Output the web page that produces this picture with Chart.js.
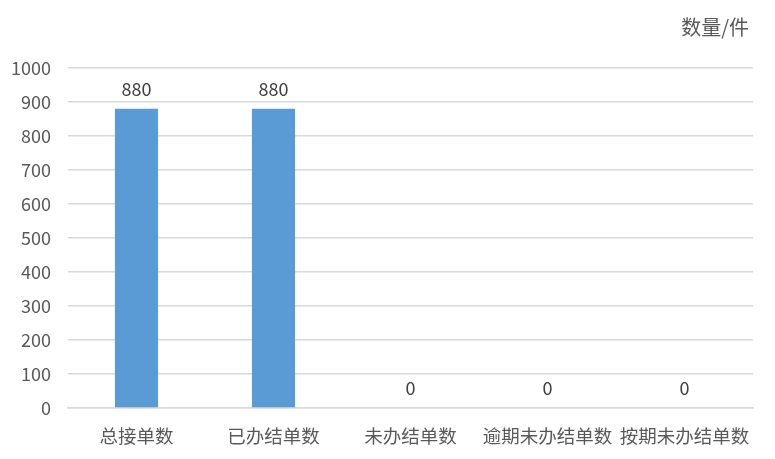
<!DOCTYPE html>
<html>
<head>
<meta charset="utf-8">
<script src="https://cdn.jsdelivr.net/npm/chart.js@4"></script>
<style>
  html, body { margin: 0; padding: 0; background: #fff; }
  #wrap { width: 775px; height: 459px; position: relative; }
</style>
</head>
<body>
<div id="wrap"><canvas id="myChart"></canvas></div>
<script>
const categorias = ['总接单数', '已办结单数', '未办结单数', '逾期未办结单数', '按期未办结单数'];
const quantidades = [880, 880, 0, 0, 0];
const unidade = '数量/件';
const yMax = 1000;
const yPasso = 100;

const fonte = '"Noto Sans CJK SC", "Noto Sans", sans-serif';
const corTexto = '#595959';

// rotulos de valor acima das barras + unidade no canto
const rotulos = {
  id: 'rotulos',
  afterDatasetsDraw(chart) {
    const ctx = chart.ctx;
    const meta = chart.getDatasetMeta(0);
    ctx.save();
    ctx.font = '18px ' + fonte;
    ctx.fillStyle = '#404040';
    ctx.textAlign = 'center';
    ctx.textBaseline = 'middle';
    meta.data.forEach((bar, i) => {
      ctx.fillText(String(quantidades[i]), bar.x, bar.y - 20);
    });
    ctx.font = '20px ' + fonte;
    ctx.fillStyle = corTexto;
    ctx.textAlign = 'right';
    ctx.fillText(unidade, chart.chartArea.right - 4, 27);
    ctx.restore();
  }
};

const ctx = document.getElementById('myChart').getContext('2d');
new Chart(ctx, {
  type: 'bar',
  data: {
    labels: categorias,
    datasets: [{
      data: quantidades,
      backgroundColor: '#5B9BD5',
      barPercentage: 0.315,
      categoryPercentage: 1
    }]
  },
  plugins: [rotulos],
  options: {
    responsive: true,
    maintainAspectRatio: false,
    animation: false,
    layout: { padding: { top: 68, right: 22, left: 0, bottom: 0 } },
    plugins: { legend: { display: false }, tooltip: { enabled: false } },
    scales: {
      x: {
        grid: { display: false },
        border: { color: '#d9d9d9', width: 1.5 },
        ticks: {
          autoSkip: false, maxRotation: 0, minRotation: 0,
          color: corTexto, font: { family: fonte, size: 18.5 }, padding: 9
        },
        afterFit(axis) { axis.height = 51; }
      },
      y: {
        min: 0, max: yMax,
        grid: { color: '#d9d9d9', lineWidth: 1.5, drawTicks: false },
        border: { display: false },
        ticks: {
          stepSize: yPasso, color: corTexto,
          font: { family: fonte, size: 18 }, padding: 17,
          callback: v => String(v)
        },
        afterFit(axis) { axis.width = 68; }
      }
    }
  }
});
</script>
</body>
</html>
